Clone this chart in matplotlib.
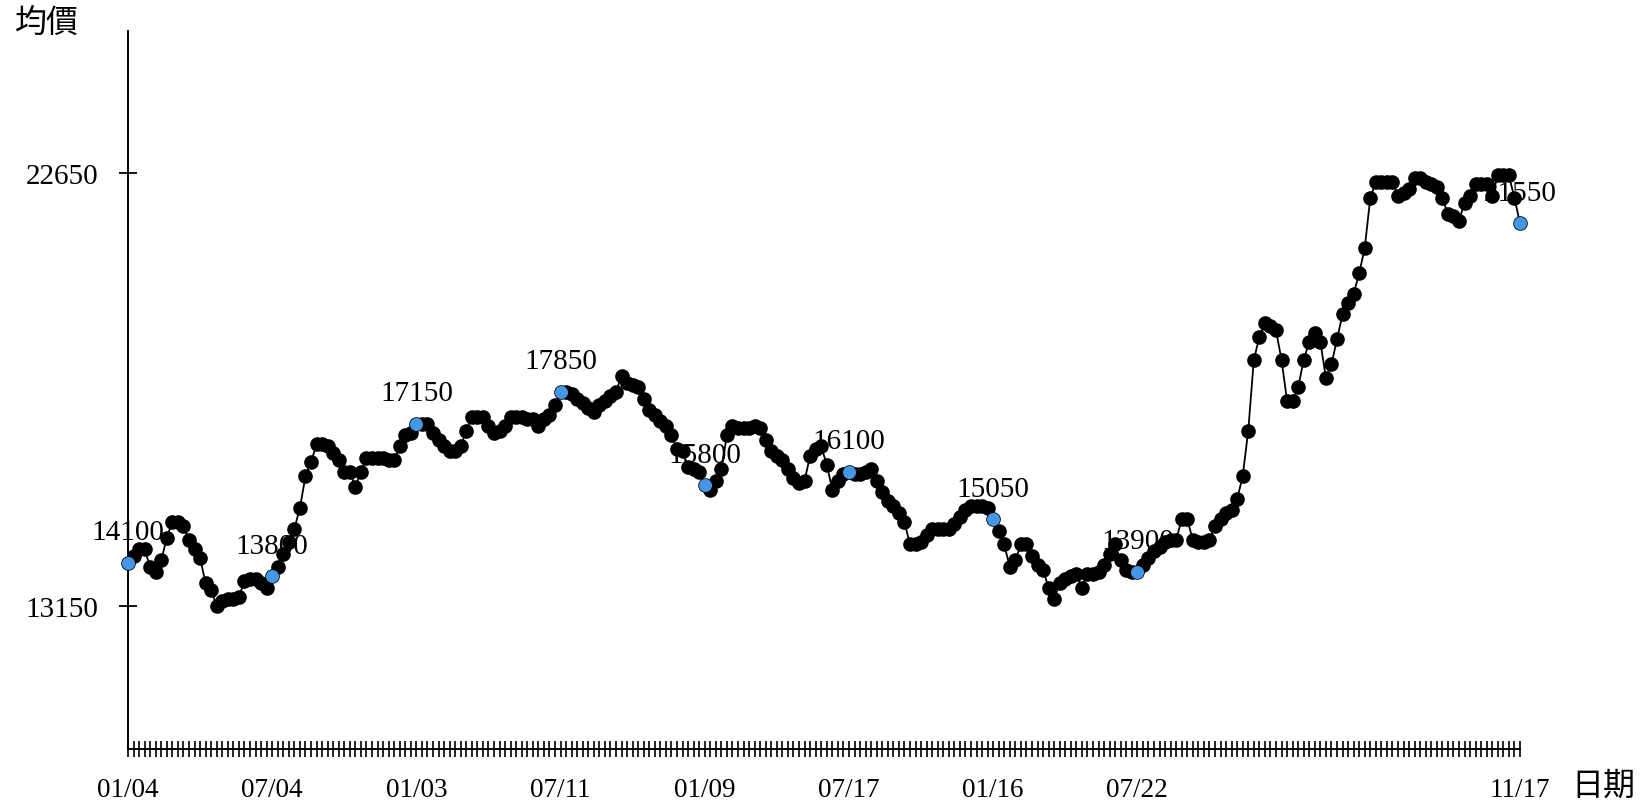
import matplotlib
matplotlib.use("Agg")
import matplotlib.pyplot as plt

prices = [
    14100, 14250, 14400, 14400, 14000, 13900, 14150, 14650, 15000, 15000,
    14900, 14600, 14400, 14200, 13650, 13500, 13150, 13250, 13300, 13300,
    13350, 13700, 13750, 13750, 13650, 13550, 13800, 14000, 14300, 14550,
    14850, 15300, 16000, 16300, 16700, 16700, 16650, 16500, 16350, 16100,
    16100, 15750, 16100, 16400, 16400, 16400, 16400, 16350, 16350, 16650,
    16900, 16950, 17150, 17150, 17150, 16950, 16800, 16650, 16550, 16550,
    16650, 17000, 17300, 17300, 17300, 17100, 16950, 17000, 17100, 17300,
    17300, 17300, 17250, 17250, 17100, 17250, 17350, 17550, 17850, 17850,
    17800, 17700, 17600, 17500, 17400, 17550, 17650, 17750, 17850, 18200,
    18050, 18000, 17950, 17700, 17450, 17350, 17200, 17100, 16900, 16600,
    16550, 16200, 16150, 16100, 15800, 15700, 15900, 16150, 16900, 17100,
    17050, 17050, 17050, 17100, 17050, 16800, 16550, 16450, 16350, 16150,
    15950, 15850, 15900, 16450, 16600, 16650, 16250, 15700, 15900, 16050,
    16100, 16050, 16050, 16100, 16150, 15900, 15650, 15450, 15350, 15200,
    15000, 14500, 14500, 14550, 14700, 14850, 14850, 14850, 14850, 14950,
    15100, 15250, 15350, 15350, 15350, 15300, 15050, 14800, 14500, 14000,
    14150, 14500, 14500, 14250, 14050, 13950, 13550, 13300, 13650, 13750,
    13800, 13850, 13550, 13850, 13850, 13900, 14050, 14300, 14500, 14150,
    13950, 13900, 13900, 14050, 14200, 14350, 14450, 14550, 14600, 14600,
    15050, 15050, 14600, 14550, 14550, 14600, 14900, 15050, 15200, 15250,
    15500, 16000, 17000, 18550, 19050, 19350, 19300, 19200, 18550, 17650,
    17650, 17950, 18550, 18950, 19150, 18950, 18150, 18450, 19000, 19550,
    19800, 20000, 20450, 21000, 22100, 22450, 22450, 22450, 22450, 22150,
    22200, 22300, 22550, 22550, 22450, 22400, 22350, 22100, 21750, 21700,
    21600, 22000, 22150, 22400, 22400, 22400, 22150, 22600, 22600, 22600,
    22100, 21550,
]

date_labels = ["01/04", "07/04", "01/03", "07/11", "01/09", "07/17", "01/16", "07/22", "11/17"]
label_idx = [0, 26, 52, 78, 104, 130, 156, 182, 251]
y_ticks = [13150, 22650]

serif = "Liberation Serif"
cjk = ["Noto Sans CJK TC", "DejaVu Sans"]

W, H = 1645, 804
L, R, T, B = 128, 1520, 31.5, 750

fig = plt.figure(figsize=(W / 100, H / 100), dpi=100)
ax = fig.add_axes([L / W, 1 - B / H, (R - L) / W, (B - T) / H])

x = list(range(len(prices)))
ax.plot(x, prices, color="black", lw=1.3, marker="o", ms=9.5, mfc="black", mec="black",
        zorder=3, clip_on=False)
ax.scatter(label_idx, [prices[i] for i in label_idx], s=70, color="#4596e6",
           edgecolors="#4596e6", zorder=4, clip_on=False)

for i in label_idx:
    ax.annotate(str(prices[i]), (i, prices[i]), xytext=(0, 22), textcoords="offset points",
                ha="center", va="center", fontsize=21, family=serif, zorder=2)

ax.set_xlim(0, len(prices) - 1)
ax.set_ylim(10013, 25776)

for s in ["top", "right"]:
    ax.spines[s].set_visible(False)
for s in ["left", "bottom"]:
    ax.spines[s].set_linewidth(1.4)
    ax.spines[s].set_color("black")

ax.set_yticks(y_ticks)
ax.set_yticklabels([str(v) for v in y_ticks], fontsize=21, family=serif)
ax.tick_params(axis="y", direction="inout", length=13, width=1.3, pad=15)

xt_labels = [""] * len(prices)
for i, lab in zip(label_idx, date_labels):
    xt_labels[i] = lab
ax.set_xticks(x)
ax.set_xticklabels(xt_labels, fontsize=19.5, family=serif)
ax.tick_params(axis="x", direction="inout", length=12, width=1.2, pad=14)

fig.text(47 / W, 1 - 23 / H, "均價", ha="center", va="center", fontsize=23, family=cjk)
fig.text(1603 / W, 1 - 786 / H, "日期", ha="center", va="center", fontsize=23, family=cjk)

fig.savefig("out.png", dpi=100, facecolor="white")
